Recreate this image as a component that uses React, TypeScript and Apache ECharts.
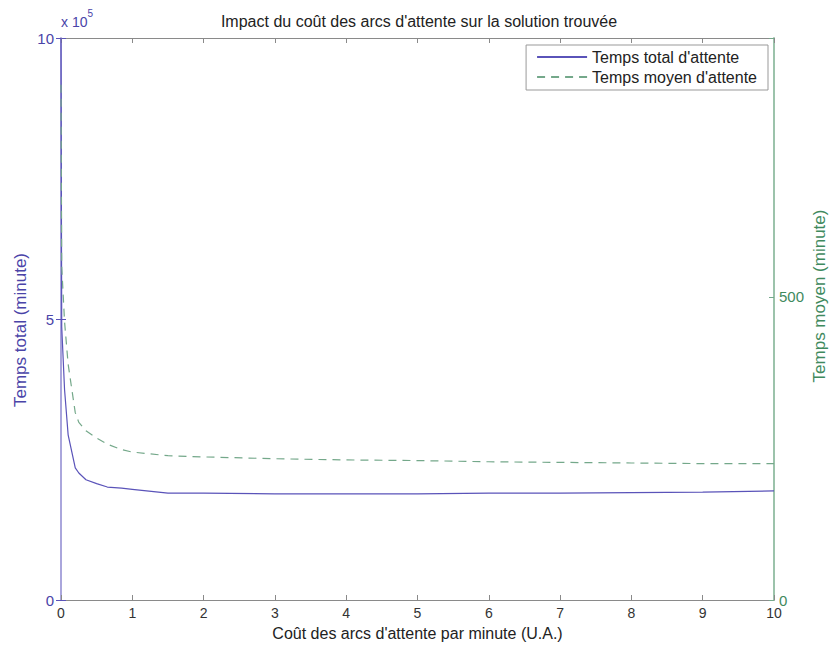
import React, { useEffect, useRef } from "react";
import * as echarts from "echarts";

const xs = [0, 0.01, 0.05, 0.1, 0.2, 0.25, 0.35, 0.5, 0.65, 0.85, 1, 1.5, 2, 3, 4, 5, 6, 7, 8, 9, 10];
// Temps total d'attente, in units of 10^5 minutes
const totalWait = [10, 4.86, 3.74, 2.94, 2.35, 2.26, 2.14, 2.07, 2.01, 1.99, 1.97, 1.9, 1.9, 1.89, 1.89, 1.89, 1.9, 1.9, 1.91, 1.92, 1.94];
// Temps moyen d'attente, minutes
const meanWait = [850, 550, 459, 389, 309, 293, 279, 267, 257, 248, 244, 238, 236, 233, 231, 230, 228, 227, 226, 225, 225];

const xTicks = { min: 0, max: 10, interval: 1 };
const leftTicks = { min: 0, max: 10, interval: 5 };
const rightTicks = { min: 0, max: 927, interval: 500 };

const PURPLE = "#5a53b9";
const PURPLE_TXT = "#4a44a8";
const PURPLE_AXIS = "#aaa6dc";
const GREEN = "#74a88a";
const GREEN_TXT = "#3f8a5e";
const GREEN_AXIS = "#9cc3ab";
const FONT = "Liberation Sans";

export default function App() {
  const ref = useRef<HTMLDivElement>(null);
  useEffect(() => {
    document.body.style.margin = "0";
    const chart = echarts.init(ref.current!, null, { renderer: "svg" });
    chart.setOption({
      animation: false,
      backgroundColor: "#ffffff",
      textStyle: { fontFamily: FONT },
      title: {
        text: "Impact du coût des arcs d'attente sur la solution trouvée",
        left: 414,
        textAlign: "center",
        top: 8,
        textStyle: { fontSize: 16, fontWeight: "normal", color: "#222", fontFamily: FONT },
      },
      grid: { left: 61, right: 56, top: 38, bottom: 45, containLabel: false, outerBoundsMode: "none" },
      legend: {
        orient: "vertical",
        right: 62,
        top: 45,
        itemWidth: 50,
        itemHeight: 14,
        itemGap: 4,
        padding: [4, 11, 5, 10],
        borderColor: "#999",
        borderWidth: 1,
        backgroundColor: "#fff",
        borderRadius: 0,
        itemStyle: { opacity: 0 },
        textStyle: { fontSize: 16, color: "#222", fontFamily: FONT },
        data: ["Temps total d'attente", "Temps moyen d'attente"],
      },
      xAxis: [
        {
          type: "value",
          ...xTicks,
          position: "bottom",
          name: "Coût des arcs d'attente par minute (U.A.)",
          nameLocation: "middle",
          nameGap: 25,
          nameTextStyle: { fontSize: 16, color: "#222", fontFamily: FONT },
          axisLine: { show: true, onZero: false, lineStyle: { color: "#8a8a8a", width: 1 } },
          axisTick: { show: true, inside: true, length: 5, lineStyle: { color: "#8a8a8a" } },
          axisLabel: { fontSize: 14, color: "#333", margin: 6, fontFamily: FONT },
          splitLine: { show: false },
        },
        {
          type: "value",
          ...xTicks,
          position: "top",
          axisLine: { show: true, onZero: false, lineStyle: { color: "#8a8a8a", width: 1 } },
          axisTick: { show: true, inside: true, length: 5, lineStyle: { color: "#8a8a8a" } },
          axisLabel: { show: false },
          splitLine: { show: false },
        },
      ],
      yAxis: [
        {
          type: "value",
          ...leftTicks,
          position: "left",
          axisLine: { show: true, onZero: false, lineStyle: { color: PURPLE_AXIS, width: 2 } },
          axisTick: { show: true, inside: true, length: 5, lineStyle: { color: PURPLE } },
          axisLabel: { fontSize: 15, color: PURPLE_TXT, margin: 7, fontFamily: FONT },
          splitLine: { show: false },
        },
        {
          type: "value",
          ...rightTicks,
          position: "right",
          axisLine: { show: true, onZero: false, lineStyle: { color: GREEN_AXIS, width: 2 } },
          axisTick: { show: true, inside: true, length: 5, lineStyle: { color: GREEN } },
          axisLabel: {
            fontSize: 15,
            color: GREEN_TXT,
            margin: 5,
            fontFamily: FONT,
            formatter: (v: number) => (v % 500 === 0 ? String(v) : ""),
          },
          splitLine: { show: false },
        },
        {
          type: "value",
          ...leftTicks,
          position: "right",
          axisLine: { show: false },
          axisTick: { show: true, inside: true, length: 5, lineStyle: { color: PURPLE } },
          axisLabel: { show: false },
          splitLine: { show: false },
        },
      ],
      graphic: [
        {
          type: "text",
          left: 61,
          top: 8,
          style: {
            text: "{a|x 10}{b|5}",
            rich: {
              a: { fontSize: 14, fill: PURPLE_TXT, fontFamily: FONT, verticalAlign: "bottom", padding: [7, 0, 0, 0] },
              b: { fontSize: 10, fill: PURPLE_TXT, fontFamily: FONT, verticalAlign: "top" },
            },
          },
        },
        {
          type: "text",
          x: 20,
          y: 330,
          rotation: Math.PI / 2,
          style: {
            text: "Temps total (minute)",
            fontSize: 17,
            fill: PURPLE_TXT,
            fontFamily: FONT,
            align: "center",
            verticalAlign: "middle",
          },
        },
        {
          type: "text",
          x: 819,
          y: 296,
          rotation: Math.PI / 2,
          style: {
            text: "Temps moyen (minute)",
            fontSize: 17,
            fill: GREEN_TXT,
            fontFamily: FONT,
            align: "center",
            verticalAlign: "middle",
          },
        },
      ],
      series: [
        {
          name: "Temps total d'attente",
          type: "line",
          xAxisIndex: 0,
          yAxisIndex: 0,
          symbol: "none",
          smooth: false,
          lineStyle: { color: PURPLE, width: 1.2 },
          itemStyle: { color: PURPLE },
          data: xs.map((x, i) => [x, totalWait[i]]),
        },
        {
          name: "Temps moyen d'attente",
          type: "line",
          xAxisIndex: 0,
          yAxisIndex: 1,
          symbol: "none",
          smooth: false,
          lineStyle: { color: GREEN, width: 1.2, type: [8, 6] },
          itemStyle: { color: GREEN },
          data: xs.map((x, i) => [x, meanWait[i]]),
        },
      ],
    });
    return () => chart.dispose();
  }, []);
  return <div ref={ref} style={{ width: 830, height: 645 }} />;
}
